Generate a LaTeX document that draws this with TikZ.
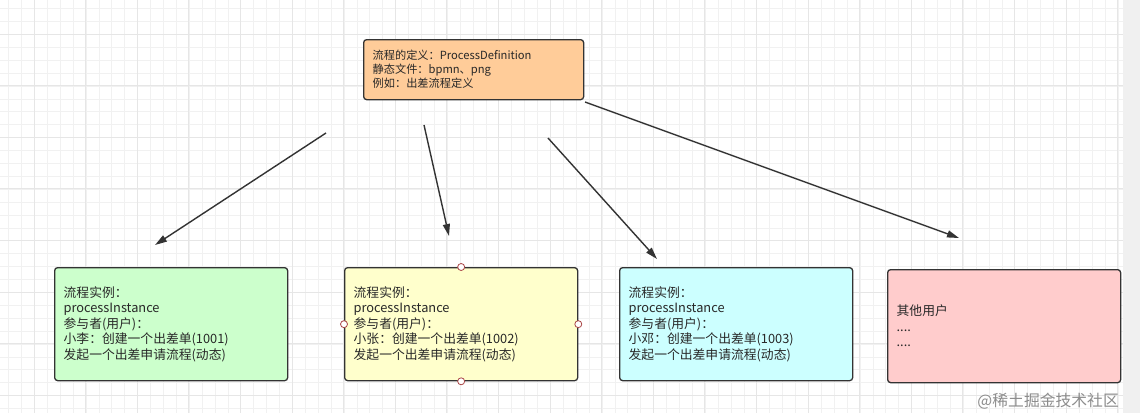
\documentclass[tikz,border=0pt]{standalone}
\usepackage{fontspec}
\setmainfont{Noto Sans CJK SC}
\usetikzlibrary{arrows.meta}
\definecolor{gridminor}{RGB}{241,241,241}
\definecolor{gridmajor}{RGB}{230,230,230}
\definecolor{edge}{RGB}{51,51,51}
\definecolor{txt}{RGB}{40,40,40}
\definecolor{fillorange}{RGB}{255,204,153}
\definecolor{fillgreen}{RGB}{204,255,204}
\definecolor{fillyellow}{RGB}{255,255,204}
\definecolor{fillcyan}{RGB}{204,255,255}
\definecolor{fillpink}{RGB}{255,204,204}
\definecolor{handle}{RGB}{170,70,70}
\definecolor{strip}{RGB}{240,240,240}
\tikzset{
  box/.style={draw=edge, line width=1.3pt, rounded corners=3pt, anchor=north west,
    inner xsep=9pt, inner ysep=0pt, text width=215pt, minimum height=113pt,
    align=left, font=\fontsize{12.8pt}{15.5pt}\selectfont, text=txt},
  topbox/.style={draw=edge, line width=1.3pt, rounded corners=3pt, anchor=north west,
    inner xsep=9pt, inner ysep=0pt, text width=202pt, minimum height=60pt,
    align=left, font=\fontsize{11.2pt}{14pt}\selectfont, text=txt, fill=fillorange},
  conn/.style={draw=edge, line width=1.4pt, -{Triangle[length=12pt,width=7pt]}},
  hdl/.style={circle, draw=handle, fill=white, line width=0.8pt, minimum size=7pt, inner sep=0pt},
}
\begin{document}
\begin{tikzpicture}[x=1pt,y=-1pt]
\useasboundingbox (0,0) rectangle (1140,413);
\fill[white] (0,0) rectangle (1140,413);
% grid
\foreach \i in {0,...,88} {
  \draw[gridminor, line width=0.6pt] ({8.5+12.9*\i},0) -- ({8.5+12.9*\i},413);
}
\foreach \i in {0,...,32} {
  \draw[gridminor, line width=0.6pt] (0,{8.5+12.9*\i}) -- (1140,{8.5+12.9*\i});
}
\foreach \i in {0,...,22} {
  \draw[gridmajor, line width=0.8pt] ({34+51.6*\i},0) -- ({34+51.6*\i},413);
}
\foreach \i in {0,...,8} {
  \draw[gridmajor, line width=0.8pt] (0,{34+51.6*\i}) -- (1140,{34+51.6*\i});
}
\fill[strip] (1123,0) rectangle (1140,413);

% nodes
\node[topbox] (def) at (363,39) {流程的定义：ProcessDefinition\\静态文件：bpmn、png\\例如：出差流程定义};
\node[box, fill=fillgreen] (i1) at (54,267) {流程实例：\\processInstance\\参与者(用户)：\\小李：创建一个出差单(1001)\\发起一个出差申请流程(动态)};
\node[box, fill=fillyellow] (i2) at (344,267) {流程实例：\\processInstance\\参与者(用户)：\\小张：创建一个出差单(1002)\\发起一个出差申请流程(动态)};
\node[box, fill=fillcyan] (i3) at (619,267) {流程实例：\\processInstance\\参与者(用户)：\\小邓：创建一个出差单(1003)\\发起一个出差申请流程(动态)};
\node[box, fill=fillpink] (i4) at (887,269) {其他用户\\....\\....};

% selection handles on i2
\node[hdl] (h1) at (i2.north) {};
\node[hdl] (h2) at (i2.south) {};
\node[hdl] (h3) at (i2.west) {};
\node[hdl] (h4) at (i2.east) {};

% connectors (free-floating ends)
\coordinate (s1) at (326,133);
\coordinate (e1) at (155,245);
\coordinate (s2) at (424,125);
\coordinate (e2) at (449,236);
\coordinate (s3) at (548,138);
\coordinate (e3) at (657,259);
\coordinate (s4) at (585,102);
\coordinate (e4) at (959,238);
\draw[conn] (s1) -- (e1);
\draw[conn] (s2) -- (e2);
\draw[conn] (s3) -- (e3);
\draw[conn] (s4) -- (e4);

% watermark
\node[anchor=east, text=black!45, font=\fontsize{15.8pt}{17pt}\selectfont, inner sep=0pt] (wm) at (1119,401) {@稀土掘金技术社区};
\end{tikzpicture}
\end{document}
